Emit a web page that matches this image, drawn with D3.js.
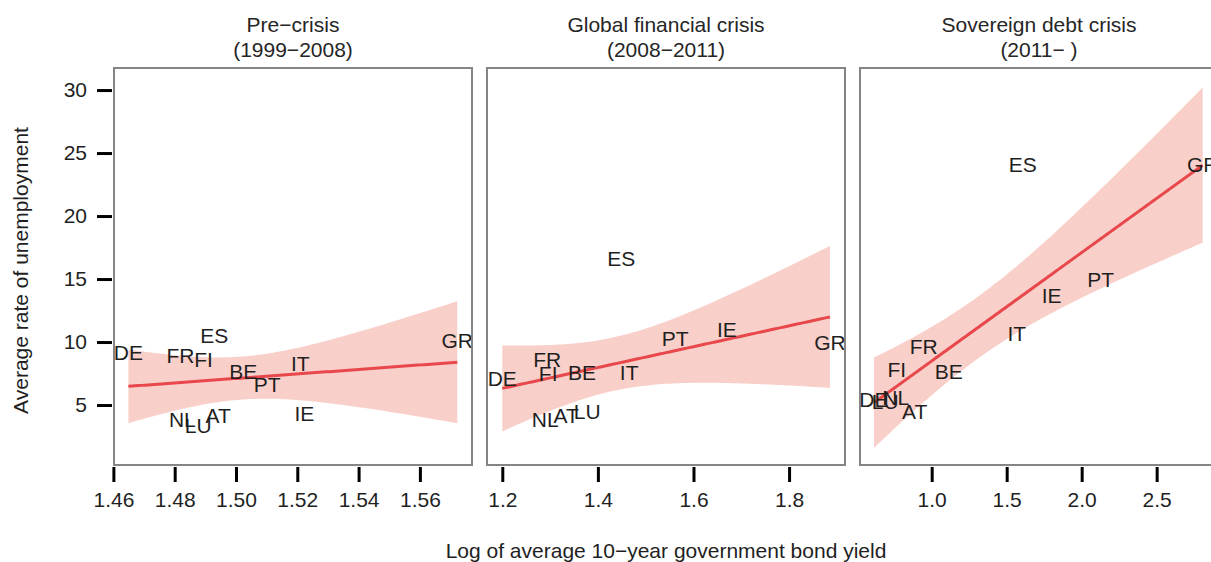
<!DOCTYPE html>
<html>
<head>
<meta charset="utf-8">
<script src="https://cdn.jsdelivr.net/npm/d3@7"></script>
<style>
  body { margin: 0; background: #fff; }
  svg { display: block; }
  text { font-family: "Liberation Sans", Arial, Helvetica, sans-serif; }
</style>
</head>
<body>
<svg id="chart" width="1211" height="562"></svg>
<script>
// Euro-area countries, same order in every period
const countries = ["AT", "BE", "DE", "ES", "FI", "FR", "GR", "IE", "IT", "LU", "NL", "PT"];

// Log of average 10-year government bond yield, per period
const preYield = [1.4942, 1.5024, 1.4649, 1.4929, 1.4894, 1.4819, 1.5722, 1.5223, 1.5210, 1.4877, 1.4825, 1.5102];
const gfcYield = [1.3337, 1.3670, 1.2000, 1.4487, 1.2960, 1.2940, 1.8855, 1.6700, 1.4654, 1.3776, 1.2899, 1.5615];
const sovYield = [0.887, 1.113, 0.615, 1.607, 0.767, 0.947, 2.807, 1.800, 1.567, 0.690, 0.760, 2.127];

// Average rate of unemployment (%), per period
const preUnemp = [4.17, 7.70, 9.17, 10.50, 8.60, 8.93, 10.12, 4.33, 8.29, 3.41, 3.85, 6.63];
const gfcUnemp = [4.20, 7.58, 7.14, 16.63, 7.54, 8.61, 9.96, 10.99, 7.58, 4.50, 3.89, 10.32];
const sovUnemp = [4.50, 7.70, 5.40, 24.13, 7.82, 9.68, 24.09, 13.73, 10.71, 5.30, 5.60, 15.00];

// Panel titles (two lines each)
const titles = [
  ["Pre\u2212crisis", "(1999\u22122008)"],
  ["Global financial crisis", "(2008\u22122011)"],
  ["Sovereign debt crisis", "(2011\u2212 )"]
];

// Axis domains and tick values
const xDomains = [[1.4602, 1.5770], [1.168, 1.917], [0.522, 2.909]];
const xTicks = [[1.46, 1.48, 1.50, 1.52, 1.54, 1.56], [1.2, 1.4, 1.6, 1.8], [1.0, 1.5, 2.0, 2.5]];
const xTickFormats = [".2f", ".1f", ".1f"];
const yDomain = [0.24, 31.75];
const yTicks = [5, 10, 15, 20, 25, 30];

const panelsX = [preYield, gfcYield, sovYield];
const panelsY = [preUnemp, gfcUnemp, sovUnemp];

const T_975_DF10 = 2.228; // two-sided 95% t quantile, n = 12

const svg = d3.select("#chart");
const plotTop = 68, plotBottom = 465, panelW = 358;
const lefts = [114, 487, 860];
const FONT = 21;
const ink = "#1f1f1f";

const y = d3.scaleLinear().domain(yDomain).range([plotBottom, plotTop]);

// Ordinary least squares fit with a 95% confidence band for the mean
function fit(xs, ys) {
  const n = xs.length;
  const mx = d3.mean(xs), my = d3.mean(ys);
  let sxx = 0, sxy = 0;
  for (let i = 0; i < n; i++) {
    sxx += (xs[i] - mx) ** 2;
    sxy += (xs[i] - mx) * (ys[i] - my);
  }
  const b = sxy / sxx, a = my - b * mx;
  let ssr = 0;
  for (let i = 0; i < n; i++) ssr += (ys[i] - a - b * xs[i]) ** 2;
  const s = Math.sqrt(ssr / (n - 2));
  const [x0, x1] = d3.extent(xs);
  const grid = d3.range(0, 101).map(k => x0 + (x1 - x0) * k / 100);
  return grid.map(xv => {
    const yhat = a + b * xv;
    const se = s * Math.sqrt(1 / n + (xv - mx) ** 2 / sxx);
    return { x: xv, y: yhat, lo: yhat - T_975_DF10 * se, hi: yhat + T_975_DF10 * se };
  });
}

lefts.forEach((left, p) => {
  const x = d3.scaleLinear().domain(xDomains[p]).range([left, left + panelW]);
  const g = svg.append("g");
  const xs = panelsX[p], ys = panelsY[p];
  const curve = fit(xs, ys);

  // confidence band
  g.append("path")
    .datum(curve)
    .attr("fill", "#f6b2a8")
    .attr("fill-opacity", 0.62)
    .attr("d", d3.area().x(d => x(d.x)).y0(d => y(d.lo)).y1(d => y(d.hi)));

  // regression line
  g.append("path")
    .datum(curve)
    .attr("fill", "none")
    .attr("stroke", "#e8474c")
    .attr("stroke-width", 3)
    .attr("d", d3.line().x(d => x(d.x)).y(d => y(d.y)));

  // country labels at each observation
  g.selectAll("text.country")
    .data(countries)
    .join("text")
    .attr("class", "country")
    .attr("x", (c, i) => x(xs[i]))
    .attr("y", (c, i) => y(ys[i]))
    .attr("text-anchor", "middle")
    .attr("dominant-baseline", "central")
    .attr("font-size", FONT)
    .attr("fill", ink)
    .text(c => c);

  // frame
  g.append("rect")
    .attr("x", left).attr("y", plotTop)
    .attr("width", panelW).attr("height", plotBottom - plotTop)
    .attr("fill", "none")
    .attr("stroke", "#858585")
    .attr("stroke-width", 2);

  // x axis
  const xAxis = d3.axisBottom(x)
    .tickValues(xTicks[p])
    .tickFormat(d3.format(xTickFormats[p]))
    .tickSize(15)
    .tickPadding(10);
  const ax = svg.append("g")
    .attr("transform", `translate(0,${plotBottom + 2})`)
    .call(xAxis);
  ax.select(".domain").remove();
  ax.selectAll(".tick line").attr("stroke", "#000").attr("stroke-width", 3);
  ax.selectAll(".tick text")
    .attr("font-size", FONT)
    .attr("font-family", "Liberation Sans, Arial, sans-serif")
    .attr("fill", ink);

  // title
  const t = svg.append("text")
    .attr("text-anchor", "middle")
    .attr("font-size", FONT)
    .attr("fill", "#262626");
  titles[p].forEach((line, k) => {
    t.append("tspan")
      .attr("x", left + panelW / 2)
      .attr("y", 32 + k * 25)
      .text(line);
  });
});

// y axis on the first panel only
const yAxis = d3.axisLeft(y)
  .tickValues(yTicks)
  .tickFormat(d3.format("d"))
  .tickSize(15)
  .tickPadding(10);
const ay = svg.append("g")
  .attr("transform", `translate(${lefts[0] - 2},0)`)
  .call(yAxis);
ay.select(".domain").remove();
ay.selectAll(".tick line").attr("stroke", "#000").attr("stroke-width", 3);
ay.selectAll(".tick text")
  .attr("font-size", FONT)
  .attr("font-family", "Liberation Sans, Arial, sans-serif")
  .attr("fill", ink);

// axis titles
svg.append("text")
  .attr("transform", `translate(28,${(plotTop + plotBottom) / 2 + 4}) rotate(-90)`)
  .attr("text-anchor", "middle")
  .attr("font-size", FONT)
  .attr("fill", ink)
  .text("Average rate of unemployment");

svg.append("text")
  .attr("x", (lefts[0] + lefts[2] + panelW) / 2)
  .attr("y", 558)
  .attr("text-anchor", "middle")
  .attr("font-size", FONT)
  .attr("fill", ink)
  .text("Log of average 10\u2212year government bond yield");
</script>
</body>
</html>
